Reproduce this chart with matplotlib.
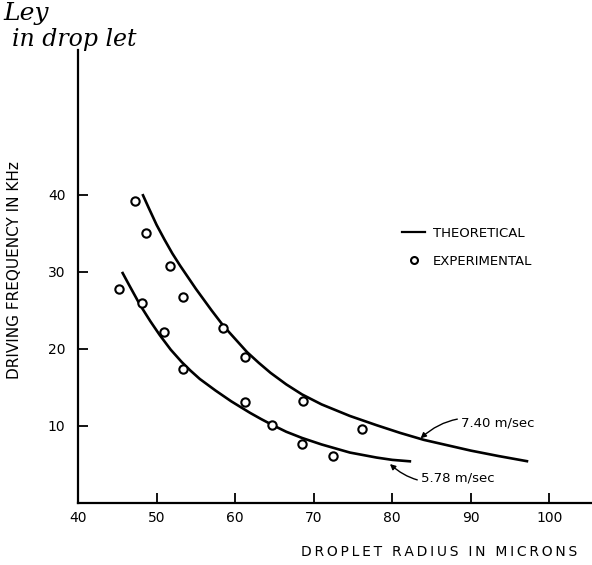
import numpy as np
import matplotlib.pyplot as plt
from matplotlib.lines import Line2D

exp_r = [47.2, 48.7, 51.7, 45.2, 53.4, 48.2, 51.0, 58.4, 61.2, 53.4,
         61.2, 68.6, 64.7, 76.1, 68.5, 72.5]
exp_f = [39.2, 35.1, 30.8, 27.8, 26.8, 25.9, 22.2, 22.7, 19.0, 17.4,
         13.1, 13.3, 10.1, 9.6, 7.6, 6.1]

# Krzywe teoretyczne (punkty odczytane wzdluz linii)
r_740 = [48.2, 49.0, 50.0, 51.0, 52.0, 53.0, 54.0, 55.0, 56.0, 57.0, 58.5,
         60.0, 61.5, 63.0, 64.5, 66.5, 68.5, 71.0, 74.6, 78.0, 81.0, 84.0,
         87.0, 90.0, 93.5, 97.3]
f_740 = [40.1, 38.3, 36.1, 34.2, 32.4, 30.8, 29.3, 27.8, 26.4, 25.0, 23.0,
         21.3, 19.6, 18.2, 16.9, 15.4, 14.1, 12.8, 11.3, 10.1, 9.1, 8.2,
         7.5, 6.8, 6.1, 5.4]
r_578 = [45.6, 46.5, 47.9, 49.2, 50.4, 51.8, 53.2, 54.3, 55.5, 57.5, 59.5,
         61.9, 63.3, 64.7, 66.5, 68.5, 71.0, 74.6, 78.0, 80.0, 82.4]
f_578 = [30.0, 28.3, 25.7, 23.6, 21.8, 19.9, 18.3, 17.2, 16.1, 14.6, 13.2,
         11.7, 10.9, 10.15, 9.25, 8.45, 7.6, 6.55, 5.9, 5.6, 5.4]

x_ticks = [40, 50, 60, 70, 80, 90, 100]
y_ticks = [10, 20, 30, 40]


def spaced(s):
    # rozstrzelony napis jak w oryginale
    return "\u2009".join(s)


fig = plt.figure(figsize=(5.92, 5.65), dpi=100)
ax = fig.add_axes([0.1318, 0.1097, 0.868, 0.8018])

ax.plot(r_740, f_740, color='black', lw=1.9, solid_capstyle='butt', solid_joinstyle='round')
ax.plot(r_578, f_578, color='black', lw=1.9, solid_capstyle='butt', solid_joinstyle='round')
ax.plot(exp_r, exp_f, 'o', mfc='white', mec='black', ms=6, mew=1.5)

ax.set_xlim(40, 105.4)
ax.set_ylim(0, 58.8)
ax.set_xticks(x_ticks)
ax.set_yticks(y_ticks)
ax.tick_params(direction='in', length=7, width=1.3, labelsize=10, pad=6)
ax.tick_params(axis='y', pad=9)
for s in ['top', 'right']:
    ax.spines[s].set_visible(False)
for s in ['left', 'bottom']:
    ax.spines[s].set_linewidth(1.6)

ax.set_xlabel(spaced("DROPLET RADIUS IN MICRONS"), fontsize=10)
ax.xaxis.set_label_coords(0.702, -0.093)
ax.set_ylabel("DRIVING FREQUENCY IN KHz", fontsize=11)
ax.yaxis.set_label_coords(-0.11, 0.515)

# Legenda
handles = [Line2D([], [], color='black', lw=1.6),
           Line2D([], [], ls='', marker='o', mfc='white', mec='black', ms=5, mew=1.5)]
ax.legend(handles, ["THEORETICAL", "EXPERIMENTAL"], frameon=False, fontsize=9.5,
          handlelength=1.7, handletextpad=0.6, labelspacing=1.15,
          loc='upper left', bbox_to_anchor=(0.608, 0.636))

# Podpisy krzywych
ax.annotate("7.40 m/sec", xy=(83.6, 8.4), xytext=(88.8, 10.35), fontsize=9.5,
            ha='left', va='center',
            arrowprops=dict(arrowstyle='-|>', color='black', lw=1.0,
                            connectionstyle='arc3,rad=0.3', shrinkA=1, shrinkB=0,
                            mutation_scale=8))
ax.annotate("5.78 m/sec", xy=(79.7, 5.06), xytext=(83.7, 3.3), fontsize=9.5,
            ha='left', va='center',
            arrowprops=dict(arrowstyle='-|>', color='black', lw=1.0,
                            connectionstyle='arc3,rad=-0.3', shrinkA=1, shrinkB=0,
                            mutation_scale=8))

# Odreczna notatka
fig.text(0.005, 0.997, "Ley", fontsize=18, family='DejaVu Serif', style='italic',
         va='top', ha='left')
fig.text(0.02, 0.95, "in drop let", fontsize=17, family='DejaVu Serif', style='italic',
         va='top', ha='left')

fig.savefig("out.png", dpi=100)
